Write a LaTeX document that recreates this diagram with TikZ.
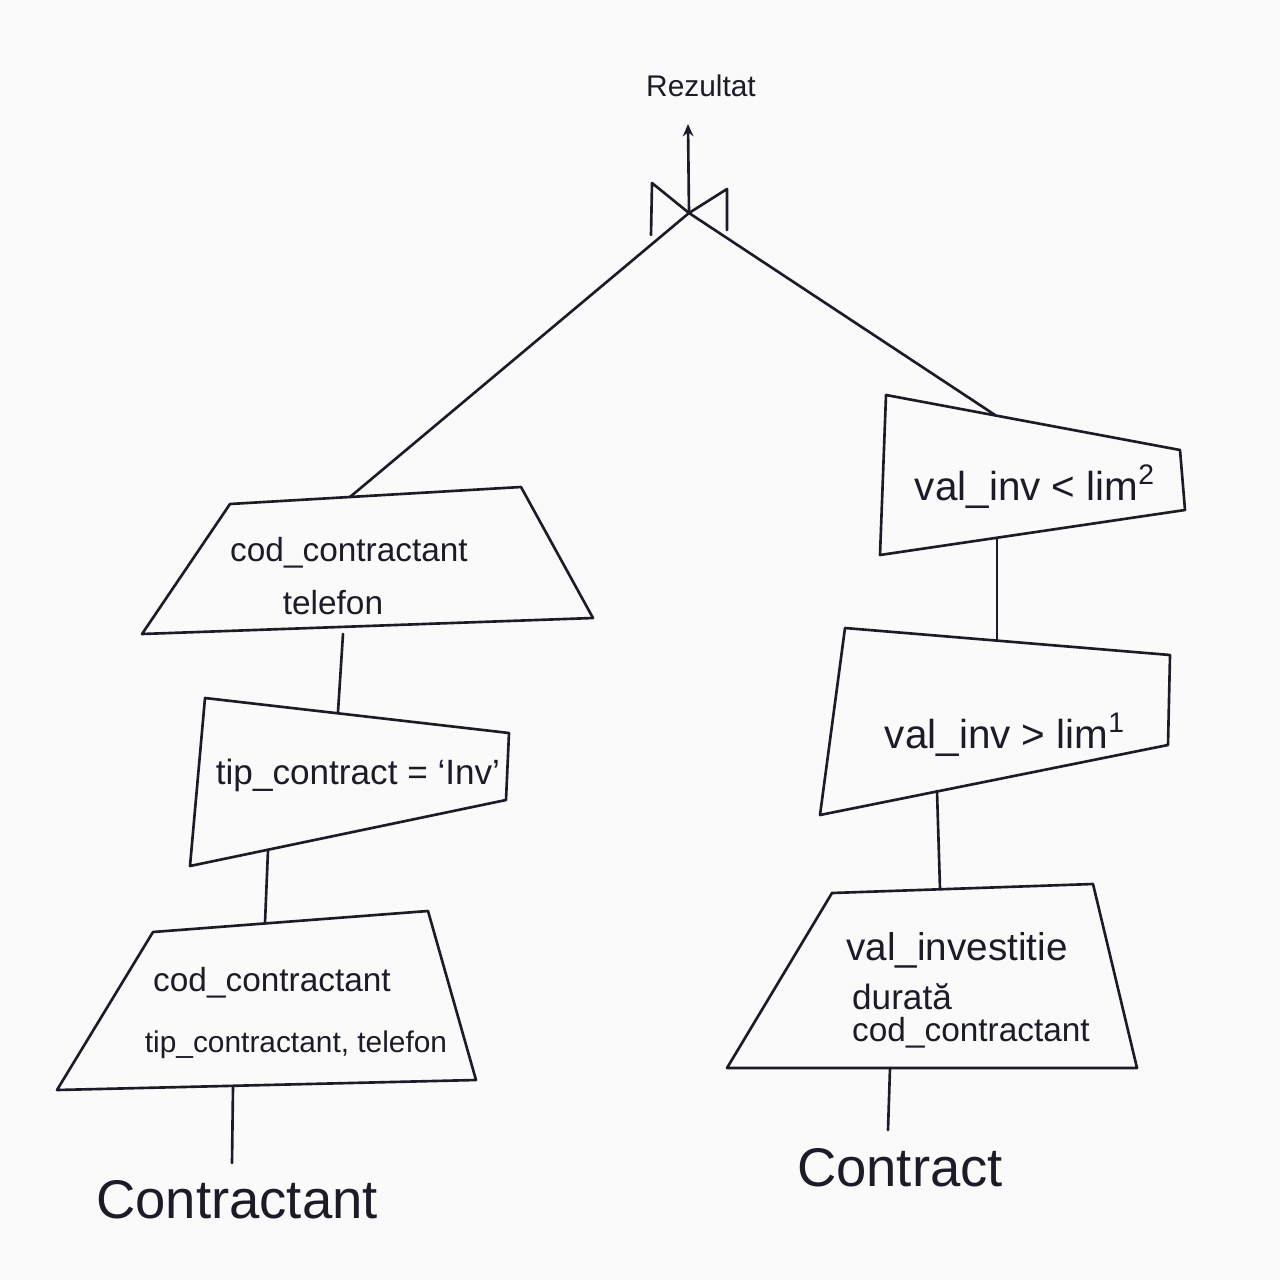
\documentclass[tikz,border=0pt]{standalone}
\usepackage{fontspec}
\setmainfont{Liberation Sans}
\usetikzlibrary{arrows.meta}
\definecolor{ink}{RGB}{28,28,40}
\definecolor{paper}{RGB}{250,250,250}
\begin{document}
\begin{tikzpicture}[x=0.02cm,y=-0.02cm,line join=round,line cap=round,
  edge/.style={draw=ink,line width=1.5pt},
  box/.style={draw=ink,line width=1.5pt},
  lbl/.style={text=ink,inner sep=0pt,font=\fontsize{19}{22}\selectfont},
  sel/.style={text=ink,inner sep=0pt,font=\fontsize{23}{27}\selectfont},
  big/.style={text=ink,inner sep=0pt,font=\fontsize{31}{36}\selectfont}]
\useasboundingbox[fill=paper] (0,0) rectangle (1280,1280);

% ---- join symbol and result ----
\coordinate (jlt) at (652,183);
\coordinate (jlb) at (651,235);
\coordinate (jrt) at (727,189);
\coordinate (jrb) at (727,230);
\coordinate (jc) at (689,213);
\node[lbl,font=\fontsize{17}{20}\selectfont] (res) at (701,86) {Rezultat};
\coordinate (arrtip) at (688,124);
\draw[edge,-{Stealth[length=7pt,width=6pt]}] (jc) -- (arrtip);
\draw[box] (jlb) -- (jlt) -- (jc);
\draw[box] (jrb) -- (jrt) -- (jc);

% ---- left branch ----
\coordinate (p1a) at (230,504);
\coordinate (p1b) at (521,487);
\coordinate (p1c) at (593,618);
\coordinate (p1d) at (142,634);
\draw[box] (p1a) -- (p1b) -- (p1c) -- (p1d) -- cycle;
\node[lbl] (p1t1) at (349,553) {cod\_contractant};
\node[lbl] (p1t2) at (333,603) {telefon};

\coordinate (s1a) at (205,698);
\coordinate (s1b) at (509,733);
\coordinate (s1c) at (506,800);
\coordinate (s1d) at (190,866);
\draw[box] (s1a) -- (s1b) -- (s1c) -- (s1d) -- cycle;
\node[lbl,font=\fontsize{20}{24}\selectfont] (s1t) at (358,775) {tip\_contract = `Inv'};

\coordinate (p2a) at (153,932);
\coordinate (p2b) at (428,911);
\coordinate (p2c) at (476,1080);
\coordinate (p2d) at (57,1090);
\draw[box] (p2a) -- (p2b) -- (p2c) -- (p2d) -- cycle;
\node[lbl] (p2t1) at (272,983) {cod\_contractant};
\node[lbl,font=\fontsize{17}{20}\selectfont] (p2t2) at (296,1045) {tip\_contractant, telefon};

\node[big] (ctant) at (237,1200) {Contractant};

% ---- right branch ----
\coordinate (s2a) at (886,395);
\coordinate (s2b) at (1180,450);
\coordinate (s2c) at (1185,510);
\coordinate (s2d) at (880,555);
\draw[box] (s2a) -- (s2b) -- (s2c) -- (s2d) -- cycle;
\node[sel] (s2t) at (1035,487) {val\_inv < lim\textsuperscript{2}};

\coordinate (s3a) at (845,628);
\coordinate (s3b) at (1170,655);
\coordinate (s3c) at (1168,745);
\coordinate (s3d) at (820,815);
\draw[box] (s3a) -- (s3b) -- (s3c) -- (s3d) -- cycle;
\node[sel] (s3t) at (1005,735) {val\_inv > lim\textsuperscript{1}};

\coordinate (p3a) at (832,893);
\coordinate (p3b) at (1093,884);
\coordinate (p3c) at (1137,1068);
\coordinate (p3d) at (727,1068);
\draw[box] (p3a) -- (p3b) -- (p3c) -- (p3d) -- cycle;
\node[lbl,font=\fontsize{22}{26}\selectfont] (p3t1) at (957,950) {val\_investitie};
\node[lbl,font=\fontsize{20}{24}\selectfont] (p3t2) at (902,997) {durată};
\node[lbl] (p3t3) at (971,1033) {cod\_contractant};

\node[big] (ctr) at (900,1168) {Contract};

% ---- connectors ----
\coordinate (p1in) at (350,497);
\coordinate (p1out) at (343,634);
\coordinate (s1in) at (338,712);
\coordinate (s1out) at (268,850);
\coordinate (p2in) at (265,923);
\coordinate (p2out) at (233,1087);
\coordinate (ctin) at (232,1163);
\coordinate (s2in) at (995,415);
\coordinate (s2out) at (997,538);
\coordinate (s3in) at (997,641);
\coordinate (s3out) at (937,791);
\coordinate (p3in) at (940,889);
\coordinate (p3out) at (890,1068);
\coordinate (ctrin) at (888,1130);

\draw[edge] (jc) -- (p1in);
\draw[edge] (jc) -- (s2in);
\draw[edge] (p1out) -- (s1in);
\draw[edge] (s1out) -- (p2in);
\draw[edge] (p2out) -- (ctin);
\draw[edge] (s2out) -- (s3in);
\draw[edge] (s3out) -- (p3in);
\draw[edge] (p3out) -- (ctrin);
\end{tikzpicture}
\end{document}
